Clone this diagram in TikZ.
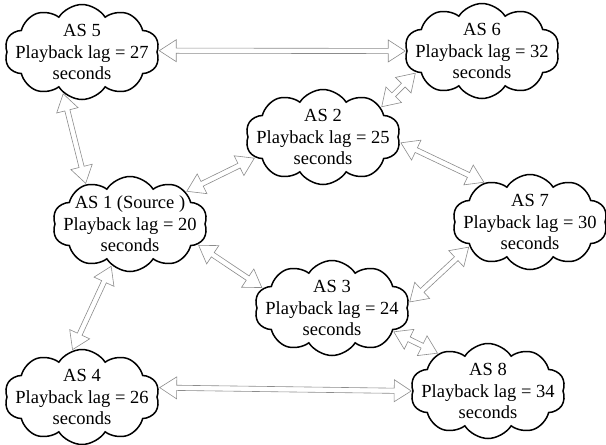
\documentclass[tikz,border=0pt]{standalone}
\usepackage{fontspec}
\setmainfont{Liberation Serif}
\usetikzlibrary{shapes.symbols,calc,decorations.pathreplacing}
\tikzset{
  asnode/.style={cloud, cloud puffs=10, cloud puff arc=115, cloud ignores aspect,
    draw=black, line width=1.5pt, fill=white,
    minimum width=155pt, minimum height=95pt, inner xsep=-28pt, inner ysep=-16pt,
    align=center, font=\fontsize{18.5}{21.5}\selectfont},
  arrowline/.style={draw=black!45, line width=0.6pt, fill=white, line join=miter},
  darrow/.style={decorate, decoration={show path construction, lineto code={
    \draw[arrowline] let \p1=(\tikzinputsegmentfirst), \p2=(\tikzinputsegmentlast),
      \n1={atan2(\y2-\y1,\x2-\x1)} in
      ($(\p1)+(\n1:1pt)$)
      -- ($(\p1)+(\n1:18pt)+(\n1+90:11pt)$)
      -- ($(\p1)+(\n1:18pt)+(\n1+90:2.6pt)$)
      -- ($(\p2)+(\n1+180:18pt)+(\n1+90:2.6pt)$)
      -- ($(\p2)+(\n1+180:18pt)+(\n1+90:11pt)$)
      -- ($(\p2)+(\n1+180:1pt)$)
      -- ($(\p2)+(\n1+180:18pt)+(\n1-90:11pt)$)
      -- ($(\p2)+(\n1+180:18pt)+(\n1-90:2.6pt)$)
      -- ($(\p1)+(\n1:18pt)+(\n1-90:2.6pt)$)
      -- ($(\p1)+(\n1:18pt)+(\n1-90:11pt)$)
      -- cycle;
  }}}
}
\begin{document}
\begin{tikzpicture}[x=1pt,y=-1pt]
\useasboundingbox (0,0) rectangle (606,445);
\node[asnode] (as5) at (82,52)  {AS 5\\Playback lag = 27\\seconds};
\node[asnode] (as6) at (482,51) {AS 6\\Playback lag = 32\\seconds};
\node[asnode] (as2) at (323,137) {AS 2\\Playback lag = 25\\seconds};
\node[asnode] (as1) at (130,224) {AS 1 (Source )\\Playback lag = 20\\seconds};
\node[asnode] (as7) at (530,222) {AS 7\\Playback lag = 30\\seconds};
\node[asnode] (as3) at (332,308) {AS 3\\Playback lag = 24\\seconds};
\node[asnode] (as4) at (82,397) {AS 4\\Playback lag = 26\\seconds};
\node[asnode] (as8) at (488,391) {AS 8\\Playback lag = 34\\seconds};

\path[darrow] (as5.1) -- (as6.180);
\path[darrow] (as5.245) -- (as1.138);
\path[darrow] (as1.30) -- (as2.197);
\path[darrow] (as1.-17) -- (as3.164);
\path[darrow] (as1.246) -- (as4.102);
\path[darrow] (as2.27) -- (as6.198);
\path[darrow] (as2.-4) -- (as7.139);
\path[darrow] (as7.202) -- (as3.4);
\path[darrow] (as3.-21) -- (as8.143);
\path[darrow] (as4.7) -- (as8.180);
\end{tikzpicture}
\end{document}
